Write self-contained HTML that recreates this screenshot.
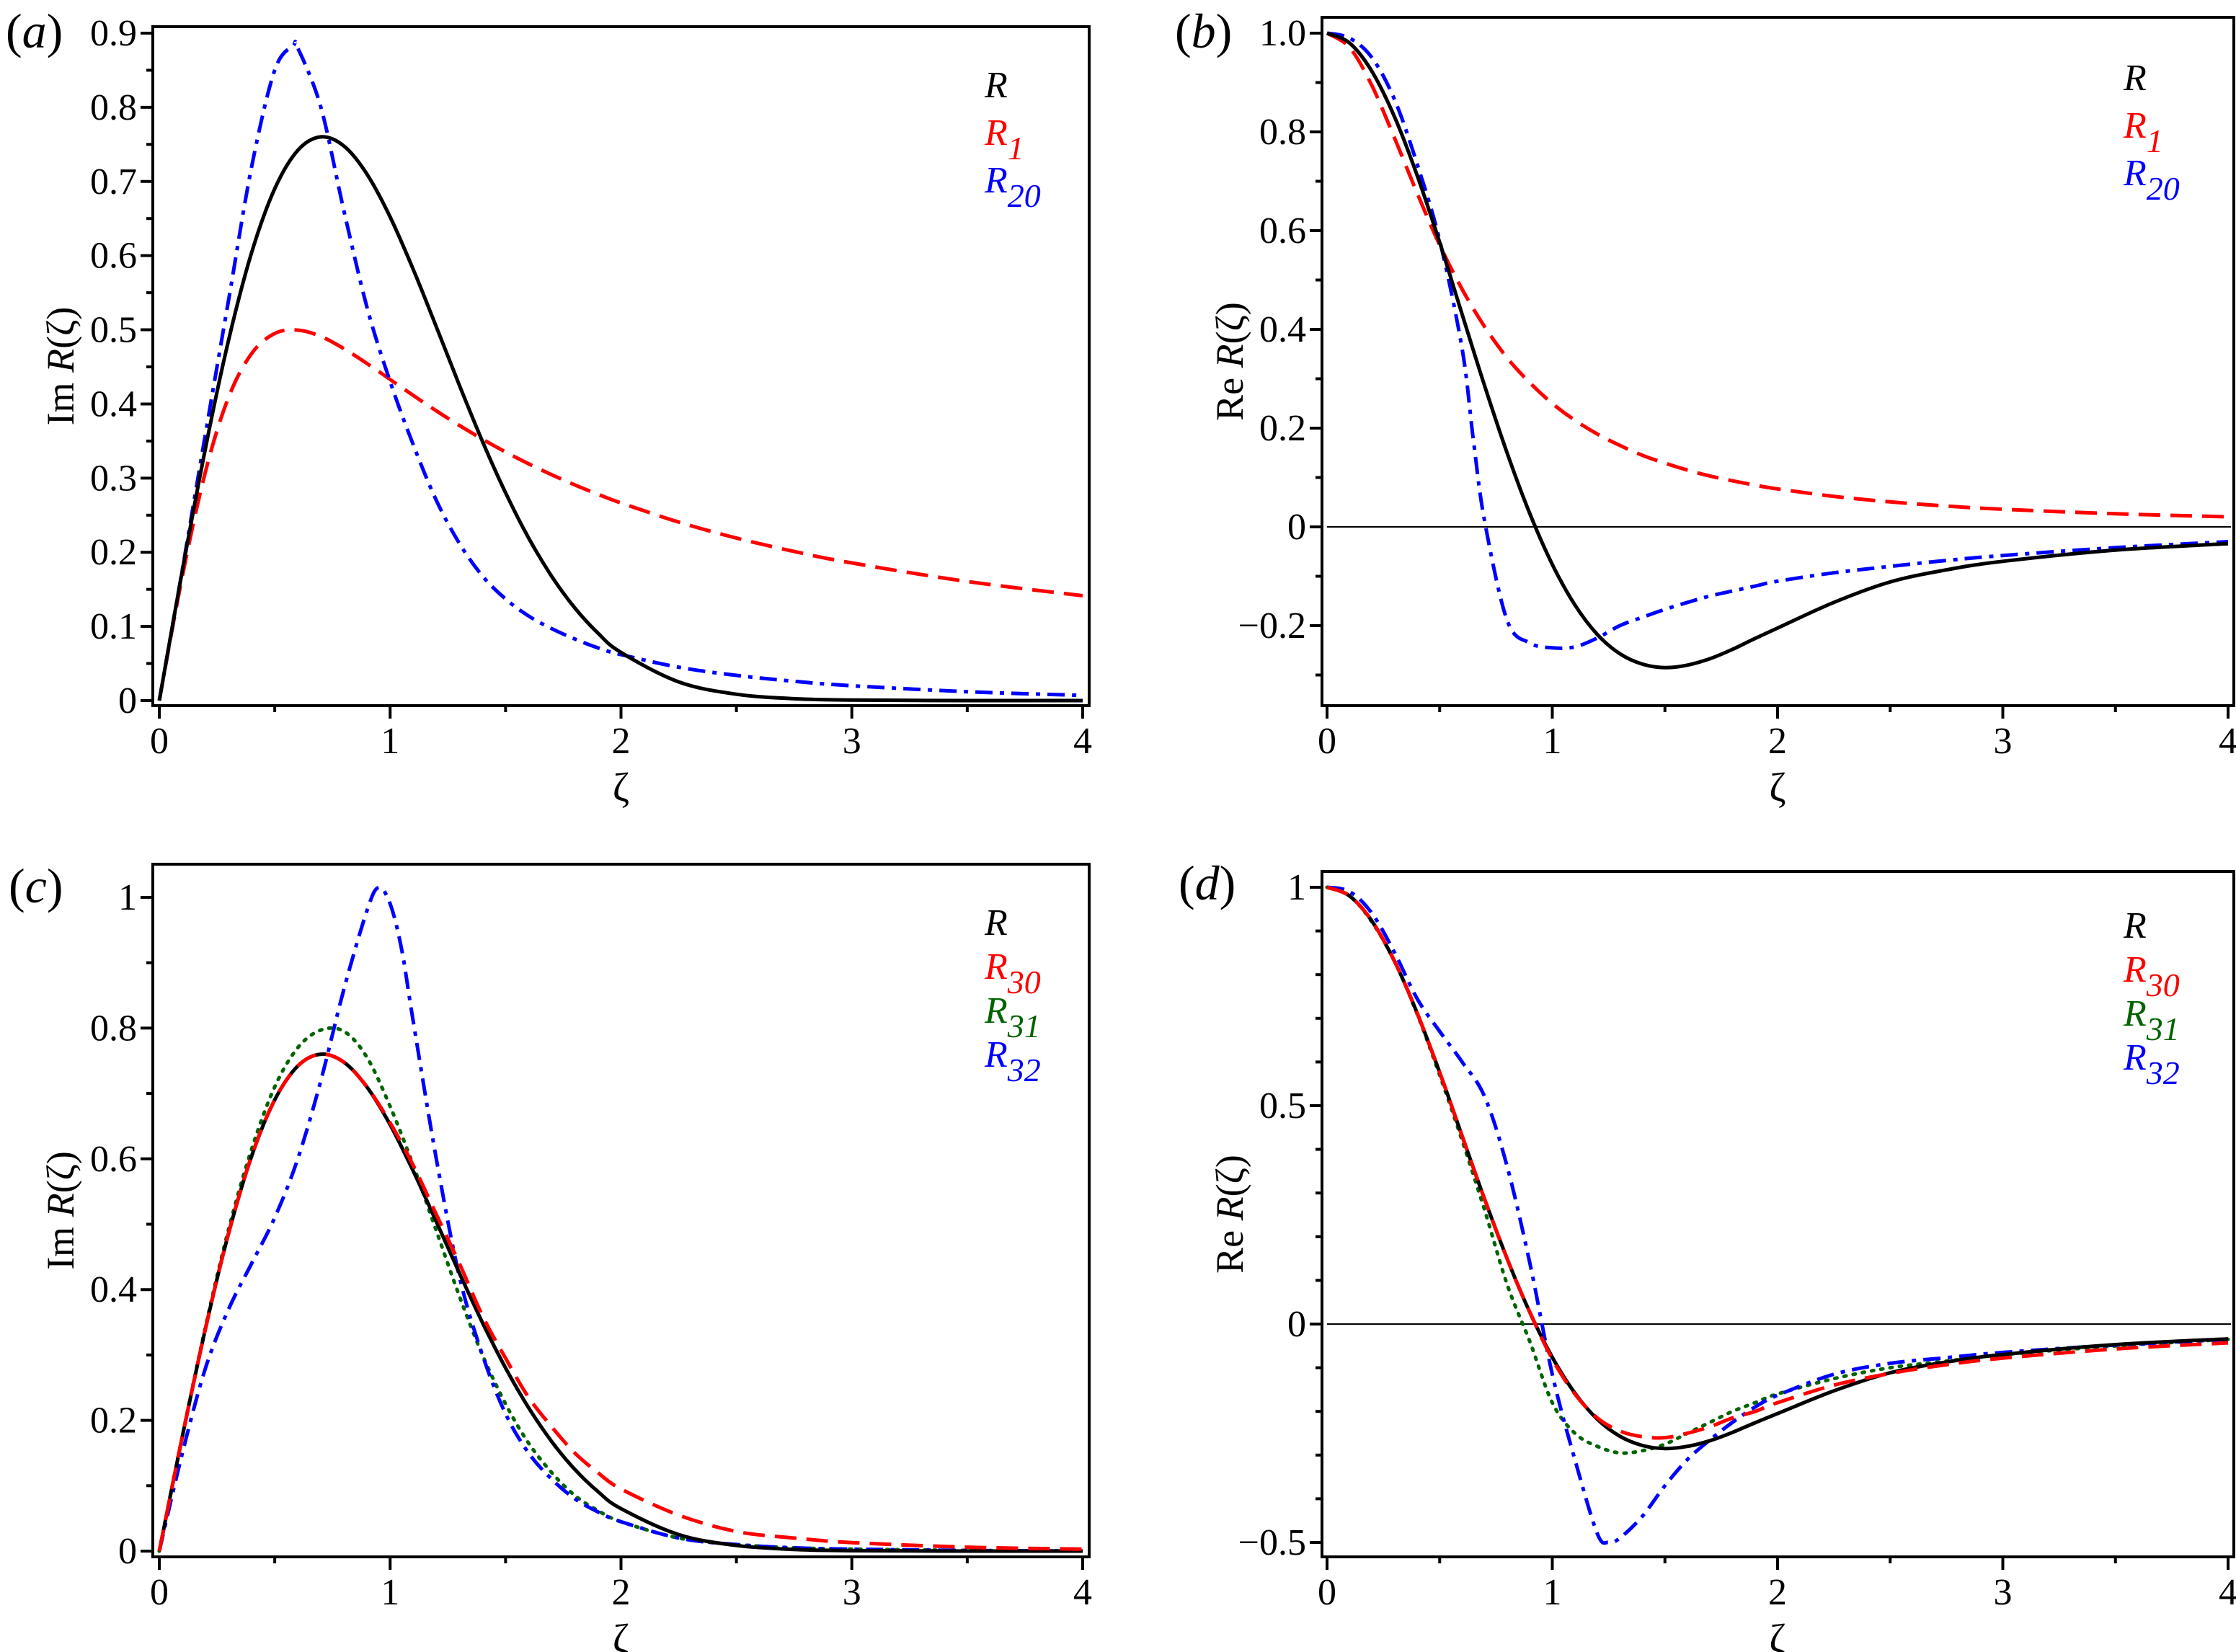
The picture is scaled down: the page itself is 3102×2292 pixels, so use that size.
<!DOCTYPE html>
<html><head><meta charset="utf-8"><style>
html,body{margin:0;padding:0;background:#fff}
svg{display:block}
text{font-family:"Liberation Serif",serif}
</style></head><body>
<svg id="fig" xmlns="http://www.w3.org/2000/svg" width="3102" height="2292" viewBox="0 0 3102 2292"></svg>
<script>
// shared zeta grid
const zGrid = [0,0.1,0.2,0.3,0.4,0.5,0.6,0.7,0.8,0.9,1.0,1.1,1.2,1.3,1.4,1.5,1.6,1.7,1.8,1.9,2.0,2.25,2.5,2.75,3,3.5,4];
// panel (a): Im R
const aR   = [0,.1755,.3406,.4860,.6042,.6902,.7420,.7601,.7477,.7097,.6521,.5814,.5040,.4252,.3495,.2802,.2192,.1675,.1249,.0911,.0649,.0252,.0086,.0025,.0007,0,0];
const aR1  = [0,.168,.309,.409,.468,.495,.4996,.491,.4745,.4545,.433,.4115,.3907,.371,.3525,.3352,.3193,.3045,.2908,.2782,.2665,.2407,.2192,.2011,.1856,.1606,.1414];
const aR20z= [0,0.1,0.2,0.3,0.4,0.5,0.58,0.6,0.7,0.8,0.9,1.0,1.1,1.2,1.3,1.4,1.5,1.6,1.7,1.8,1.9,2.0,2.25,2.5,2.75,3,3.5,4];
const aR20 = [0,.177,.36,.54,.72,.85,.883,.88,.80,.66,.53,.43,.345,.27,.212,.168,.137,.114,.097,.083,.071,.062,.045,.034,.026,.020,.012,.007];
// panel (b): Re R
const bR   = [1,.980,.922,.830,.712,.576,.430,.285,.149,.027,-.076,-.158,-.218,-.257,-.278,-.285,-.280,-.267,-.248,-.226,-.205,-.153,-.1115,-.087,-.0698,-.047,-.034];
const bR1  = [1,.971,.893,.787,.676,.571,.481,.405,.342,.292,.25,.216,.188,.165,.145,.129,.115,.103,.0933,.0845,.0769,.0618,.0506,.0422,.0357,.0265,.0204];
const bR20z= [0,0.1,0.2,0.3,0.4,0.5,0.6,0.65,0.7,0.8,0.9,1.0,1.1,1.2,1.3,1.4,1.5,1.6,1.7,1.8,1.9,2.0,2.25,2.5,2.75,3,3.5,4];
const bR20 = [1,.99,.95,.865,.735,.58,.36,.175,.01,-.19,-.235,-.245,-.243,-.225,-.2,-.183,-.167,-.153,-.14,-.13,-.12,-.11,-.093,-.08,-.068,-.058,-.042,-.03];
// panel (c): Im R
const cR30 = [0,.1755,.3406,.4860,.6042,.6902,.7420,.7601,.7477,.7097,.655,.59,.515,.44,.36,.295,.235,.19,.15,.12,.095,.055,.03,.02,.013,.006,.003];
const cR31 = [0,.176,.343,.492,.615,.71,.77,.797,.795,.755,.68,.59,.49,.39,.30,.225,.165,.12,.085,.062,.045,.02,.01,.005,.003,.001,0];
const cR32z= [0,0.1,0.2,0.3,0.4,0.5,0.6,0.7,0.8,0.9,0.95,1.0,1.05,1.1,1.2,1.3,1.4,1.5,1.6,1.7,1.8,1.9,2.0,2.25,2.5,2.75,3,3.5,4];
const cR32 = [0,.15,.28,.37,.44,.51,.6,.72,.86,.98,1.015,.99,.92,.81,.6,.42,.3,.21,.15,.11,.08,.06,.045,.02,.01,.005,.003,.001,0];
// panel (d): Re R
const dR30 = [1,.980,.922,.830,.712,.576,.430,.285,.149,.027,-.08,-.16,-.215,-.245,-.258,-.26,-.25,-.235,-.215,-.2,-.18,-.14,-.113,-.093,-.078,-.057,-.043];
const dR31 = [1,.98,.92,.83,.71,.57,.42,.26,.09,-.04,-.18,-.25,-.28,-.295,-.29,-.275,-.25,-.225,-.2,-.18,-.16,-.125,-.1,-.085,-.07,-.05,-.035];
const dR32z= [0,0.1,0.2,0.3,0.4,0.5,0.6,0.7,0.8,0.9,1.0,1.1,1.2,1.25,1.3,1.4,1.5,1.6,1.7,1.8,1.9,2.0,2.25,2.5,2.75,3,3.5,4];
const dR32 = [1,.99,.94,.85,.745,.67,.6,.52,.36,.14,-.115,-.31,-.48,-.5,-.49,-.44,-.37,-.31,-.265,-.225,-.19,-.163,-.115,-.09,-.077,-.065,-.048,-.035];
// tick labels
const xTicks = [0,1,2,3,4];
const aYTicks = [0,0.1,0.2,0.3,0.4,0.5,0.6,0.7,0.8,0.9];
const aYLabels = ["0","0.1","0.2","0.3","0.4","0.5","0.6","0.7","0.8","0.9"];
const bYTicks = [-0.2,0,0.2,0.4,0.6,0.8,1.0];
const bYLabels = ["\u22120.2","0","0.2","0.4","0.6","0.8","1.0"];
const cYTicks = [0,0.2,0.4,0.6,0.8,1];
const cYLabels = ["0","0.2","0.4","0.6","0.8","1"];
const dYTicks = [-0.5,0,0.5,1];
const dYLabels = ["\u22120.5","0","0.5","1"];

const NS="http://www.w3.org/2000/svg";
const svg=document.getElementById('fig');
function mk(tag,attrs,parent){const e=document.createElementNS(NS,tag);for(const k in attrs)e.setAttribute(k,attrs[k]);(parent||svg).appendChild(e);return e;}

function smoothPath(pts){
  let d="M"+pts[0][0].toFixed(1)+","+pts[0][1].toFixed(1);
  for(let i=0;i<pts.length-1;i++){
    const p0=pts[Math.max(0,i-1)],p1=pts[i],p2=pts[i+1],p3=pts[Math.min(pts.length-1,i+2)];
    const c1=[p1[0]+(p2[0]-p0[0])/6,p1[1]+(p2[1]-p0[1])/6];
    const c2=[p2[0]-(p3[0]-p1[0])/6,p2[1]-(p3[1]-p1[1])/6];
    d+=" C"+c1[0].toFixed(1)+","+c1[1].toFixed(1)+" "+c2[0].toFixed(1)+","+c2[1].toFixed(1)+" "+p2[0].toFixed(1)+","+p2[1].toFixed(1);
  }
  return d;
}

function panel(cfg){
  const g=mk('g',{});
  
  
  const xs=v=>cfg.x0+(cfg.x4-cfg.x0)*v/4;
  const ys=v=>cfg.yA+(cfg.yB-cfg.yA)*(v-cfg.vA)/(cfg.vB-cfg.vA);
  const box=mk('rect',{x:cfg.L,y:cfg.T,width:cfg.R-cfg.L,height:cfg.B-cfg.T,fill:'none',stroke:'#000','stroke-width':4},g);
  
  
  cfg.yTicks.forEach((v,i)=>{
    const y=ys(v);
    const t=mk('line',{x1:cfg.L-17,x2:cfg.L,y1:y,y2:y,stroke:'#000','stroke-width':4},g);
    
    
    const tx=mk('text',{x:cfg.L-22,y:y+17,'font-size':52,'text-anchor':'end',fill:'#000'},g);
    tx.textContent=cfg.yLabels[i];
    
    
  });
  for(let v=cfg.minStart; v<=cfg.minEnd+1e-9; v+=cfg.minStep){
    if(cfg.yTicks.some(t=>Math.abs(t-v)<1e-6)) continue;
    const y=ys(v);
    const t=mk('line',{x1:cfg.L-9,x2:cfg.L,y1:y,y2:y,stroke:'#000','stroke-width':4},g);
    
    
  }
  xTicks.forEach(v=>{
    const x=xs(v);
    const t=mk('line',{x1:x,x2:x,y1:cfg.B,y2:cfg.B+18,stroke:'#000','stroke-width':4},g);
    
    
    const tx=mk('text',{x:x,y:cfg.B+66,'font-size':52,'text-anchor':'middle',fill:'#000'},g);
    tx.textContent=String(v);
    
    
  });
  for(let v=0.5; v<4; v+=1){
    const x=xs(v);
    const t=mk('line',{x1:x,x2:x,y1:cfg.B,y2:cfg.B+9,stroke:'#000','stroke-width':4},g);
    
    
  }
  if(cfg.zeroLine){
    const zl=mk('line',{x1:xs(0),x2:cfg.R-4,y1:ys(0),y2:ys(0),stroke:'#000','stroke-width':2},g);
    
    
  }
  const xt=mk('text',{x:(cfg.x0+cfg.x4)/2,y:cfg.B+132,'font-size':56,'text-anchor':'middle',fill:'#000'},g);
  xt.textContent='\u03B6';
  
  
  const yc=(cfg.T+cfg.B)/2;
  const yt=mk('text',{x:cfg.L-110,y:yc,'font-size':54,'text-anchor':'middle',fill:'#000',transform:`rotate(-90 ${cfg.L-110} ${yc})`},g);
  yt.innerHTML=cfg.yTitle+' <tspan font-style="italic">R</tspan>(\u03B6)';
  
  
  const pl=mk('text',{x:cfg.lblX,y:cfg.lblY,'font-size':68,fill:'#000'},g);
  pl.innerHTML='(<tspan font-style="italic">'+cfg.letter+'</tspan>)';
  
  
  cfg.series.forEach(s=>{
    const pts=s.z.map((z,i)=>[xs(z),ys(s.v[i])]);
    const p=mk('path',{d:smoothPath(pts),fill:'none',stroke:s.color,'stroke-width':5,'stroke-dasharray':s.dash||'none','stroke-linecap':s.cap||'butt'},g);
    
    
  });
  cfg.legend.forEach((e,i)=>{
    const t=mk('text',{x:cfg.legX,y:cfg.legY+i*cfg.legStep,'font-size':52,'font-style':'italic',style:'fill:'+e.color},g);
    t.innerHTML='R'+(e.sub?'<tspan dy="20" font-size="46" style="fill:'+e.color+'">'+e.sub+'</tspan>':'');
    
    
  });
}

const BLUE='#0000ff',RED='#ff0000',GREEN='#006400';
const DASH='30 14',DASHDOT='24 10 6 10',DOT='3 10';

panel({name:'panel-a',letter:'a',L:212,T:37,R:1511,B:979,x0:221,x4:1502,yA:972,vA:0,yB:46,vB:0.9,
  yTicks:aYTicks,yLabels:aYLabels,minStart:0.05,minEnd:0.9,minStep:0.1,yTitle:'Im',lblX:8,lblY:66,
  series:[{id:'series-R1',z:zGrid,v:aR1,color:RED,dash:DASH},{id:'series-R20',z:aR20z,v:aR20,color:BLUE,dash:DASHDOT},{id:'series-R',z:zGrid,v:aR,color:'#000'}],
  legX:1366,legY:135,legStep:66,legend:[{color:'#000'},{color:RED,sub:'1'},{color:BLUE,sub:'20'}]});

panel({name:'panel-b',letter:'b',L:1834,T:24,R:3099,B:979,x0:1841,x4:3091,yA:731,vA:0,yB:46,vB:1.0,
  yTicks:bYTicks,yLabels:bYLabels,minStart:-0.3,minEnd:0.9,minStep:0.2,yTitle:'Re',zeroLine:true,lblX:1630,lblY:66,
  series:[{id:'series-R1',z:zGrid,v:bR1,color:RED,dash:DASH},{id:'series-R20',z:bR20z,v:bR20,color:BLUE,dash:DASHDOT},{id:'series-R',z:zGrid,v:bR,color:'#000'}],
  legX:2946,legY:125,legStep:66,legend:[{color:'#000'},{color:RED,sub:'1'},{color:BLUE,sub:'20'}]});

panel({name:'panel-c',letter:'c',L:212,T:1199,R:1511,B:2160,x0:221,x4:1502,yA:2152,vA:0,yB:1245,vB:1,
  yTicks:cYTicks,yLabels:cYLabels,minStart:0.1,minEnd:0.9,minStep:0.2,yTitle:'Im',lblX:12,lblY:1252,
  series:[{id:'series-R31',z:zGrid,v:cR31,color:GREEN,dash:DOT,cap:'round'},{id:'series-R32',z:cR32z,v:cR32,color:BLUE,dash:DASHDOT},{id:'series-R',z:zGrid,v:aR,color:'#000'},{id:'series-R30',z:zGrid,v:cR30,color:RED,dash:DASH}],
  legX:1366,legY:1297,legStep:61,legend:[{color:'#000'},{color:RED,sub:'30'},{color:GREEN,sub:'31'},{color:BLUE,sub:'32'}]});

panel({name:'panel-d',letter:'d',L:1834,T:1209,R:3099,B:2160,x0:1841,x4:3091,yA:1837,vA:0,yB:1231,vB:1,
  yTicks:dYTicks,yLabels:dYLabels,minStart:-0.4,minEnd:0.9,minStep:0.1,yTitle:'Re',zeroLine:true,lblX:1635,lblY:1248,
  series:[{id:'series-R31',z:zGrid,v:dR31,color:GREEN,dash:DOT,cap:'round'},{id:'series-R32',z:dR32z,v:dR32,color:BLUE,dash:DASHDOT},{id:'series-R',z:zGrid,v:bR,color:'#000'},{id:'series-R30',z:zGrid,v:dR30,color:RED,dash:DASH}],
  legX:2946,legY:1301,legStep:61,legend:[{color:'#000'},{color:RED,sub:'30'},{color:GREEN,sub:'31'},{color:BLUE,sub:'32'}]});
</script>
</body></html>
